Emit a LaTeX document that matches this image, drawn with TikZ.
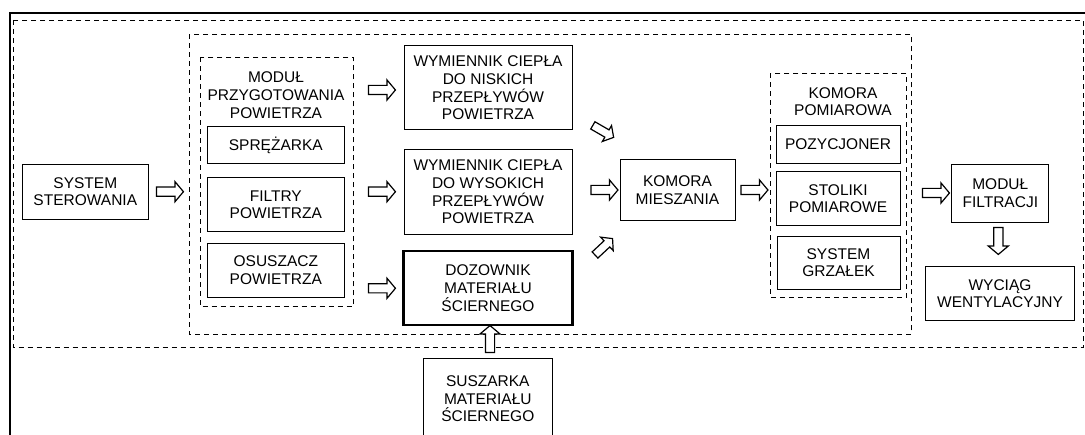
\documentclass[tikz,border=0pt]{standalone}
\usepackage{fontspec}
\setmainfont{Liberation Sans}
\usetikzlibrary{shapes.arrows}

\begin{document}
\begin{tikzpicture}[x=1pt,y=-1pt,
        blok/.style={
        draw=black, line width=0.9pt,
        align=center, inner sep=0pt,
        font=\fontsize{15.5}{17.8}\selectfont},
        grupa/.style={
        draw=black, line width=0.9pt,
        dash pattern=on 5pt off 4pt},
        opis/.style={
        align=center, inner sep=0pt,
        font=\fontsize{15.5}{17.8}\selectfont},
        strz/.style={
        single arrow, draw=black, fill=white,
        line width=1.2pt, inner xsep=0pt, inner ysep=4pt,
        minimum height=27pt,
        single arrow head extend=5.5pt,
        single arrow tip angle=100},
        strzmala/.style={
        strz, inner ysep=3.6pt,
        minimum height=24pt,
        single arrow head extend=5pt},
        ]

        \useasboundingbox (0,0) rectangle (1085,435);
        \clip (0,0) rectangle (1085,435);

        % ramka i grupy
        \draw[line width=1.5pt] (10,440) -- (10,13) -- (1090,13);
        \draw[grupa] (13.3,20) rectangle (1083,347.7);
        \draw[grupa] (189,34.3) rectangle (911,334.3);
        \draw[grupa] (200,57.3) rectangle (353.3,306.7);
        \draw[grupa] (770,73.3) rectangle (906.7,297.3);

        \node (sys) [blok, minimum width=126pt, minimum height=55pt] at (85.3,191.7){SYSTEM\\STEROWANIA};

        \node (modul) [opis] at (276,95){MODUŁ\\PRZYGOTOWANIA\\POWIETRZA};
        \node (spr) [blok, minimum width=137pt, minimum height=36.6pt] at (275.8,145){SPRĘŻARKA};
        \node (filtry) [blok, minimum width=137pt, minimum height=54pt] at (275.8,204.7){FILTRY\\POWIETRZA};
        \node (osusz) [blok, minimum width=137pt, minimum height=54pt] at (275.8,270.3){OSUSZACZ\\POWIETRZA};

        \node (wymN) [blok, minimum width=168pt, minimum height=84pt] at (488,87.8){WYMIENNIK CIEPŁA\\DO NISKICH\\PRZEPŁYWÓW\\POWIETRZA};
        \node (wymW) [blok, minimum width=168pt, minimum height=85pt] at (488,191.8){WYMIENNIK CIEPŁA\\DO WYSOKICH\\PRZEPŁYWÓW\\POWIETRZA};
        \node (doz) [blok, line width=2.5pt, minimum width=169pt, minimum height=74pt] at (488,288.2){DOZOWNIK\\MATERIAŁU\\ŚCIERNEGO};
        \node (susz) [blok, minimum width=129pt, minimum height=80pt] at (487.8,398.7){SUSZARKA\\MATERIAŁU\\ŚCIERNEGO};

        \node (miesz) [blok, minimum width=115pt, minimum height=61.4pt] at (677.5,190){KOMORA\\MIESZANIA};

        \node (pomiar) [opis] at (843,101.7){KOMORA\\POMIAROWA};
        \node (poz) [blok, minimum width=124pt, minimum height=38pt] at (838,144.2){POZYCJONER};
        \node (stol) [blok, minimum width=124pt, minimum height=54pt] at (838,198.7){STOLIKI\\POMIAROWE};
        \node (grz) [blok, minimum width=123pt, minimum height=53pt] at (838.5,262.7){SYSTEM\\GRZAŁEK};

        \node (filtr) [blok, minimum width=97pt, minimum height=58pt] at (1000.3,193.5){MODUŁ\\FILTRACJI};
        \node (wyciag) [blok, minimum width=148.6pt, minimum height=54pt] at (1000,293.7){WYCIĄG\\WENTYLACYJNY};

        % strzalki blokowe
        \node (s1) [strz] at (168,191.7){};
        \node (s2) [strz] at (380,90){};
        \node (s3) [strz] at (380,191.7){};
        \node (s4) [strz] at (380,288.3){};
        \node (s5) [strzmala, rotate=-30] at (601.7,130.5){};
        \node (s6) [strz] at (602.5,190){};
        \node (s7) [strzmala, rotate=43] at (602.5,248){};
        \node (s8) [strz] at (752.5,190){};
        \node (s9) [strz] at (934,193){};
        \node (s10) [strz, rotate=-90] at (998.3,239){};
        \node (s11) [strz, rotate=90] at (490,341){};
\end{tikzpicture}
\end{document}
